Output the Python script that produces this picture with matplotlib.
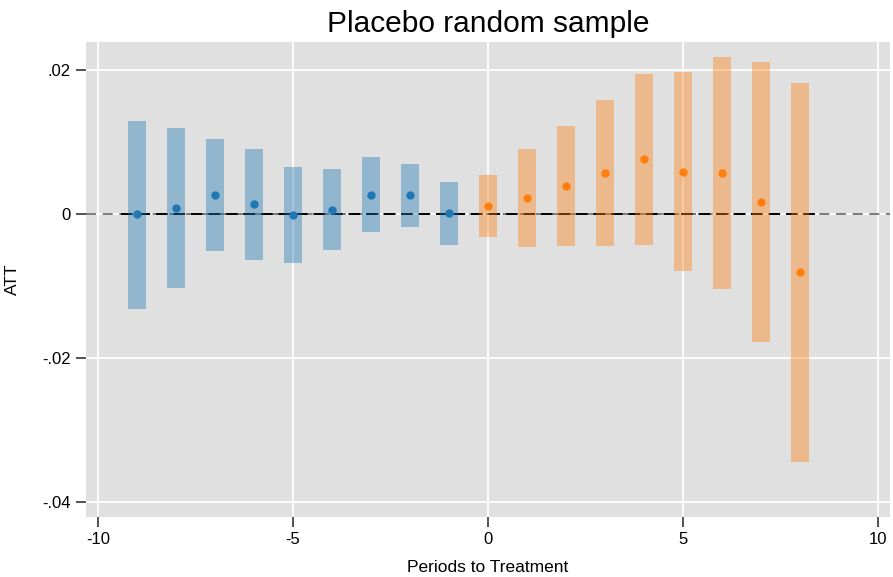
import numpy as np
import matplotlib
matplotlib.use("Agg")
from matplotlib import pyplot as plt

plt.rcParams['font.family'] = ['Liberation Sans', 'DejaVu Sans']
plt.rcParams['axes.unicode_minus'] = False

# pre-treatment periods
pre_x = [-9, -8, -7, -6, -5, -4, -3, -2, -1]
pre_att = [0.0000, 0.0008, 0.0026, 0.0014, -0.0001, 0.0006, 0.0027, 0.0026, 0.0001]
pre_hi = [0.0130, 0.0119, 0.0105, 0.0091, 0.0066, 0.0062, 0.0080, 0.0069, 0.0044]
pre_lo = [-0.0132, -0.0103, -0.0052, -0.0064, -0.0068, -0.0050, -0.0025, -0.0018, -0.0043]

# post-treatment periods
post_x = [0, 1, 2, 3, 4, 5, 6, 7, 8]
post_att = [0.0011, 0.0022, 0.0039, 0.0057, 0.0076, 0.0059, 0.0057, 0.0017, -0.0081]
post_hi = [0.0054, 0.0090, 0.0123, 0.0158, 0.0195, 0.0197, 0.0219, 0.0212, 0.0182]
post_lo = [-0.0032, -0.0046, -0.0044, -0.0045, -0.0043, -0.0079, -0.0104, -0.0178, -0.0344]

xticks = [-10, -5, 0, 5, 10]
yticks = [0.02, 0, -0.02, -0.04]
ylabels = ['.02', '0', '-.02', '-.04']

fig = plt.figure(figsize=(8.93, 5.77), dpi=100)
ax = fig.add_axes([0.0963, 0.104, 0.9003, 0.823])
ax.set_facecolor('#e0e0e0')
for s in ax.spines.values():
    s.set_visible(False)

ax.set_xlim(-10.31, 10.31)
ax.set_ylim(-0.0421, 0.0239)
ax.set_xticks(xticks)
ax.set_yticks(yticks)
ax.set_yticklabels(ylabels)
ax.grid(True, color='white', linewidth=1.3)
ax.set_axisbelow(True)
ax.tick_params(direction='out', length=7, width=1.2, labelsize=12,
               color='#333333', labelcolor='black', pad=4)

ax.axhline(0, color='#666666', linestyle=(0, (6, 4)), linewidth=1.2, zorder=1.5)
ax.plot([-9.4, 8.4], [0, 0], color='black', linestyle=(0, (6, 3)), linewidth=1.4, zorder=1.6)

w = 0.47
ax.bar(pre_x, np.array(pre_hi) - np.array(pre_lo), bottom=pre_lo, width=w,
       color='#1f77b4', alpha=0.4, zorder=2)
ax.bar(post_x, np.array(post_hi) - np.array(post_lo), bottom=post_lo, width=w,
       color='#ff7f0e', alpha=0.4, zorder=2)
ax.plot(pre_x, pre_att, 'o', color='#1f77b4', markersize=5, zorder=3)
ax.plot(post_x, post_att, 'o', color='#ff7f0e', markersize=5, zorder=3)

ax.set_title('Placebo random sample', fontsize=21.5, pad=7)
ax.set_xlabel('Periods to Treatment', fontsize=12.5, labelpad=9)
ax.set_ylabel('ATT', fontsize=12.5, labelpad=16)

fig.savefig('out.png', dpi=100)
